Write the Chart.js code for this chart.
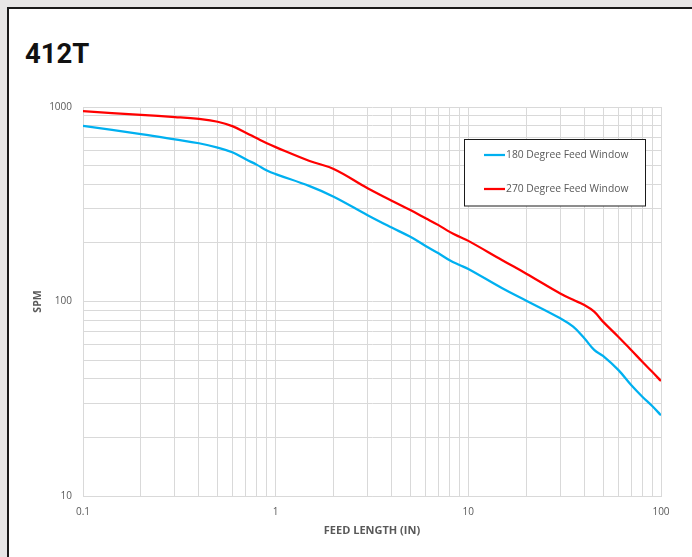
<!DOCTYPE html>
<html>
<head>
<meta charset="utf-8">
<script src="https://cdn.jsdelivr.net/npm/chart.js@4/dist/chart.umd.min.js"></script>
<style>
  html, body { margin: 0; padding: 0; }
  body { width: 692px; height: 557px; background: #e7e6e6; position: relative; overflow: hidden; }
  #card { position: absolute; left: 7px; top: 7px; width: 720px; height: 620px; background: #fff;
          border-left: 2px solid #1a1a1a; border-top: 2px solid #1a1a1a; }
  #title { position: absolute; left: 25px; top: 40px; font-family: Roboto, sans-serif; font-weight: 700;
           font-size: 27.5px; line-height: 27.5px; color: #111; }
  #wrap { position: absolute; left: 0; top: 0; width: 692px; height: 557px; }
</style>
</head>
<body>
<div id="card"></div>
<div id="title">412T</div>
<div id="wrap"><canvas id="c" width="692" height="557"></canvas></div>
<script>
// ---- data ----
const feedLength = [0.1, 0.2, 0.3, 0.4, 0.5, 0.6, 0.7, 0.8, 0.9, 1, 1.5, 2, 3, 4, 5, 6, 7, 8, 9, 10, 15, 20, 30, 35, 40, 45, 50, 60, 70, 80, 90, 100];
const spm180 = [800, 726, 682, 651, 618, 583, 538, 504, 472, 452, 392, 346, 278, 240, 215, 193, 177, 163, 154, 147, 117, 101, 82, 74.2, 64.7, 56.4, 52.5, 44.5, 37.2, 32.4, 29, 26];
const spm270 = [953, 910, 888, 868, 840, 795, 738, 690, 651, 622, 528, 480, 382, 330, 295, 268, 247, 228, 215, 205, 163, 139, 110, 102, 95.9, 88.7, 78.8, 65.9, 56.3, 49, 43.5, 39];
const seriesNames = ['180 Degree Feed Window', '270 Degree Feed Window'];
const xTickLabels = ['0.1', '1', '10', '100'];
const yTickLabels = ['10', '100', '1000'];
const xAxisTitle = 'FEED LENGTH (IN)';
const yAxisTitle = 'SPM';

const COL_BLUE = '#00b0f0';
const COL_RED = '#ff0000';
const GRID = '#d9d9d9';
const TXT = '#595959';

function toPoints(xs, ys) { return xs.map((x, i) => ({ x: x, y: ys[i] })); }

function logTicks(minExp, maxExp) {
  const out = [];
  for (let e = minExp; e < maxExp; e++) {
    for (let s = 1; s <= 9; s++) out.push(+(s * Math.pow(10, e)).toPrecision(6));
  }
  out.push(Math.pow(10, maxExp));
  return out;
}

const legendPlugin = {
  id: 'boxLegend',
  afterDraw(chart) {
    const ctx = chart.ctx;
    const L = 464.5, T = 139.5, W = 181, H = 66.5;
    ctx.save();
    ctx.fillStyle = '#ffffff';
    ctx.fillRect(L, T, W, H);
    ctx.strokeStyle = '#1a1a1a';
    ctx.lineWidth = 1;
    ctx.strokeRect(L, T, W, H);
    const rows = [155, 189];
    chart.data.datasets.forEach((ds, i) => {
      const y = rows[i];
      ctx.strokeStyle = ds.borderColor;
      ctx.lineWidth = 2.25;
      ctx.beginPath();
      ctx.moveTo(484, y);
      ctx.lineTo(505, y);
      ctx.stroke();
      ctx.fillStyle = TXT;
      ctx.font = '10.3px "Open Sans"';
      ctx.textBaseline = 'middle';
      ctx.textAlign = 'left';
      ctx.fillText(ds.label, 506, y + 0.5);
    });
    ctx.restore();
  }
};

new Chart(document.getElementById('c'), {
  type: 'line',
  data: {
    datasets: [
      { label: seriesNames[0], data: toPoints(feedLength, spm180), borderColor: COL_BLUE, backgroundColor: COL_BLUE,
        borderWidth: 2.25, pointRadius: 0, tension: 0.4, fill: false },
      { label: seriesNames[1], data: toPoints(feedLength, spm270), borderColor: COL_RED, backgroundColor: COL_RED,
        borderWidth: 2.25, pointRadius: 0, tension: 0.4, fill: false }
    ]
  },
  options: {
    responsive: false,
    maintainAspectRatio: false,
    animation: false,
    layout: { padding: { left: 0, top: 107, right: 31, bottom: 0 } },
    plugins: { legend: { display: false }, tooltip: { enabled: false } },
    scales: {
      x: {
        type: 'logarithmic', min: 0.1, max: 100,
        afterBuildTicks(scale) { scale.ticks = logTicks(-1, 2).map(v => ({ value: v })); },
        afterFit(scale) { scale.height = 61; },
        grid: { color: GRID, lineWidth: 1, drawTicks: false },
        border: { color: GRID, width: 1 },
        ticks: {
          autoSkip: false, maxRotation: 0, padding: 10, color: TXT,
          font: { family: 'Open Sans', size: 10 },
          callback(v) {
            const idx = [0.1, 1, 10, 100].indexOf(+(+v).toPrecision(6));
            return idx >= 0 ? xTickLabels[idx] : '';
          }
        },
        title: { display: true, text: xAxisTitle, color: TXT,
          font: { family: 'Open Sans', size: 11, weight: 'bold' }, padding: { top: 0, bottom: 19.5 } }
      },
      y: {
        type: 'logarithmic', min: 10, max: 1000,
        afterBuildTicks(scale) { scale.ticks = logTicks(1, 3).map(v => ({ value: v })); },
        afterFit(scale) { scale.width = 83; },
        grid: { color: GRID, lineWidth: 1, drawTicks: false },
        border: { color: GRID, width: 1 },
        ticks: {
          autoSkip: false, padding: 11, color: TXT,
          font: { family: 'Open Sans', size: 10 },
          callback(v) {
            const idx = [10, 100, 1000].indexOf(+(+v).toPrecision(6));
            return idx >= 0 ? yTickLabels[idx] : '';
          }
        },
        title: { display: true, text: yAxisTitle, color: TXT,
          font: { family: 'Open Sans', size: 10.5, weight: 'bold' }, padding: { top: 31.5, bottom: 0 } }
      }
    }
  },
  plugins: [legendPlugin]
});
</script>
</body>
</html>
